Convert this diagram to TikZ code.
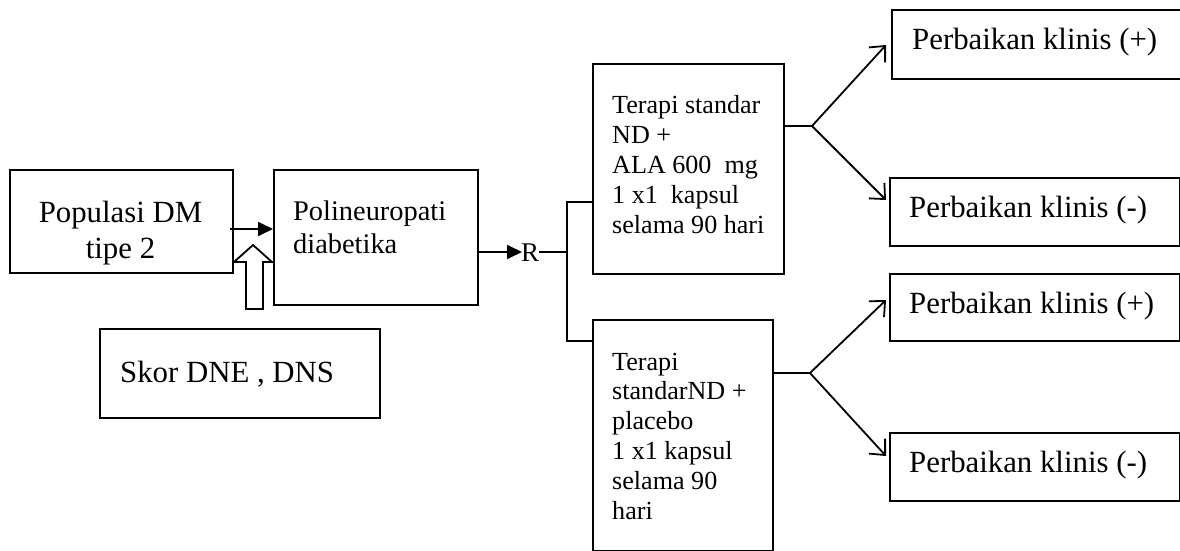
\documentclass[tikz,border=0pt]{standalone}
\usepackage{fontspec}
\setmainfont{Liberation Serif}
\usetikzlibrary{arrows.meta}
\newcommand\fBig{\fontsize{30.8}{35.2}\selectfont}
\newcommand\fPoli{\fontsize{28.4}{33}\selectfont}
\newcommand\fTer{\fontsize{26.1}{29.8}\selectfont}
\newcommand\fR{\fontsize{27}{31}\selectfont}
\tikzset{
  bx/.style={draw, line width=1.8pt, inner sep=0pt, anchor=north west},
  txt/.style={inner sep=0pt, anchor=base west, align=left},
  ln/.style={line width=1.8pt},
  fillarrow/.style={ln, -{Triangle[length=15pt,width=14pt]}},
  openarrow/.style={ln, -{Straight Barb[length=12pt,width=22pt,line width=1.8pt]}},
}
\begin{document}
\begin{tikzpicture}[x=1pt,y=-1pt]
\useasboundingbox (0,0) rectangle (1180,551);
\clip (0,0) rectangle (1180,551);
% boxes
\node[bx, minimum width=223pt, minimum height=103pt] (pop) at (9,169) {};
\node[bx, minimum width=204pt, minimum height=135pt] (poli) at (273,169) {};
\node[bx, minimum width=280pt, minimum height=89pt] (skor) at (99,328) {};
\node[bx, minimum width=191pt, minimum height=210pt] (ter1) at (592,63) {};
\node[bx, minimum width=180pt, minimum height=231pt] (ter2) at (592,319) {};
\node[bx, minimum width=300pt, minimum height=69pt] (p1) at (891,9) {};
\node[bx, minimum width=290pt, minimum height=68pt] (p2) at (889,177) {};
\node[bx, minimum width=290pt, minimum height=67pt] (p3) at (889,273) {};
\node[bx, minimum width=290pt, minimum height=68pt] (p4) at (889,432) {};
% texts (base anchor = baseline of the last line)
\node[inner sep=0pt, anchor=base, align=center, font=\fBig] (popt) at (120.5,258) {Populasi DM\\tipe 2};
\node[txt, font=\fPoli] (polit) at (293,253) {Polineuropati\\diabetika};
\node[txt, font=\fBig] (skort) at (120,382) {Skor DNE , DNS};
\node[txt, font=\fTer] (ter1t) at (612,233) {Terapi standar\\ND +\\ALA 600\ \ mg\\1 x1\ \ kapsul\\selama 90 hari};
\node[txt, font=\fTer] (ter2t) at (612,519) {Terapi\\standarND +\\placebo\\1 x1 kapsul\\selama 90\\hari};
\node[txt, font=\fBig] (p1t) at (912,50) {Perbaikan klinis (+)};
\node[txt, font=\fBig] (p2t) at (909,217) {Perbaikan klinis (-)};
\node[txt, font=\fBig] (p3t) at (909,313) {Perbaikan klinis (+)};
\node[txt, font=\fBig] (p4t) at (909,472) {Perbaikan klinis (-)};
\node[inner sep=0pt, anchor=base west, font=\fR] (R) at (521,261) {R};
% helper coordinates
\coordinate (ya) at (0,229);
\coordinate (yr) at (0,252);
\coordinate (b1) at (567,202);
\coordinate (b2) at (567,341);
\coordinate (f1) at (812,126);
\coordinate (f2) at (810,373);
\coordinate (t1) at (886,45);
\coordinate (t2) at (886,200);
\coordinate (t3) at (886,300);
\coordinate (t4) at (886,456);
% connectors
\draw[fillarrow] ([xshift=-4pt]pop.east |- ya) -- (poli.west |- ya);
\draw[fillarrow] (poli.east |- yr) -- ([xshift=1pt]R.west |- yr);
\draw[ln] (R.east |- yr) -- (b1 |- yr);
\draw[ln] (ter1.west |- b1) -- (b1) -- (b2) -- (ter2.west |- b2);
\draw[ln] (ter1.east |- f1) -- (f1);
\draw[openarrow] (f1) -- (t1);
\draw[openarrow] (f1) -- (t2);
\draw[ln] (ter2.east |- f2) -- (f2);
\draw[openarrow] (f2) -- (t3);
\draw[openarrow] (f2) -- (t4);
% hollow block arrow
\draw[ln, fill=white, line join=miter] (246,309) -- (246,262) -- (234,262) -- (253,245) -- (272,262) -- (263,262) -- (263,309) -- cycle;
\end{tikzpicture}
\end{document}
